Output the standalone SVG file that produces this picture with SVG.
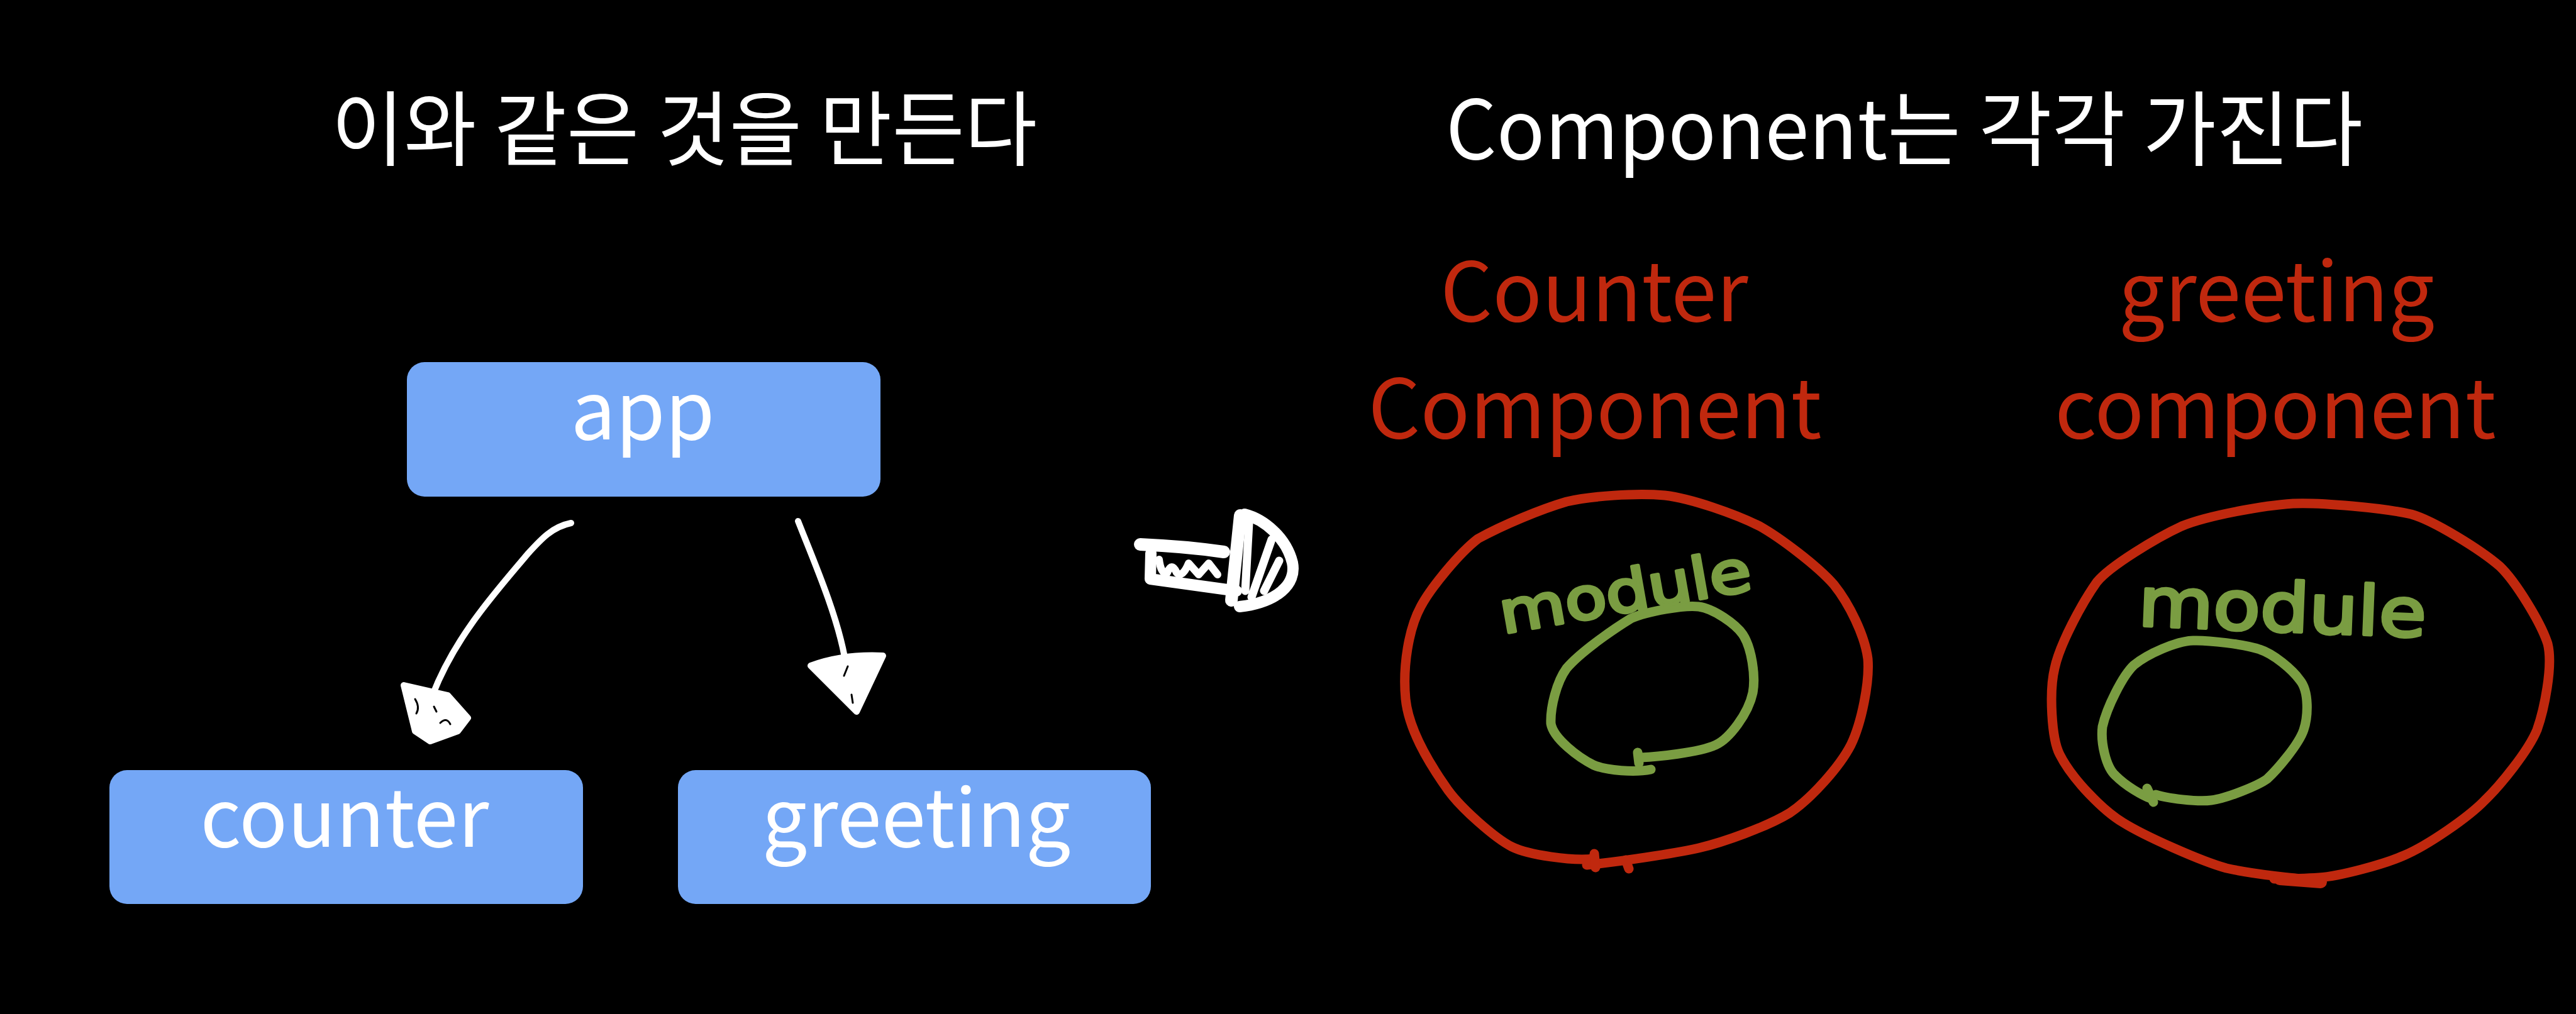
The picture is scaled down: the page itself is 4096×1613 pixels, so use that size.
<svg xmlns="http://www.w3.org/2000/svg" width="4096" height="1613" viewBox="0 0 4096 1613">
<style>
.title{font-family:"Noto Sans CJK KR","Noto Sans",sans-serif;font-size:130px;fill:#ffffff;text-anchor:middle}
.red{font-family:"Noto Sans CJK KR","Noto Sans",sans-serif;font-size:130px;fill:#c0280e;text-anchor:middle}
.box{fill:#74a7f6}
.boxt{font-family:"Noto Sans CJK KR","Noto Sans",sans-serif;font-size:127px;fill:#ffffff;text-anchor:middle}
.wl{fill:none;stroke:#ffffff;stroke-width:10;stroke-linecap:round;stroke-linejoin:round}
.wf{fill:#ffffff;stroke:#ffffff;stroke-width:10;stroke-linecap:round;stroke-linejoin:round}
.bk{fill:none;stroke:#000000;stroke-width:3;stroke-linecap:round}
.rl{fill:none;stroke:#c0280e;stroke-width:15;stroke-linecap:round;stroke-linejoin:round}
.gl{fill:none;stroke:#7a9d42;stroke-width:15;stroke-linecap:round;stroke-linejoin:round}
.mod{font-family:"DejaVu Sans",sans-serif;fill:#7a9d42;stroke:#7a9d42;stroke-width:5;stroke-linejoin:round}
</style>
<rect width="4096" height="1613" fill="#000000"/>
<g id="title-left"><text class="title" x="1088" y="253" textLength="1122" lengthAdjust="spacingAndGlyphs">이와 같은 것을 만든다</text></g>
<g id="title-right"><text class="title" x="3028" y="253" textLength="1458" lengthAdjust="spacingAndGlyphs">Component는 각각 가진다</text></g>
<g id="node-app"><rect class="box" x="647" y="576" width="753" height="214" rx="28"/><text class="boxt" x="1022" y="699">app</text></g>
<g id="node-counter"><rect class="box" x="174" y="1225" width="753" height="213" rx="28"/><text class="boxt" x="548" y="1347">counter</text></g>
<g id="node-greeting"><rect class="box" x="1078" y="1225" width="752" height="213" rx="28"/><text class="boxt" x="1457" y="1347">greeting</text></g>
<g id="connectors">
<path class="wl" d="M908,832 C878,838 860,858 840,880 C790,940 725,1010 688,1105"/>
<path class="wf" d="M642,1090 L712,1106 L744,1142 L728,1163 L684,1179 L660,1163 Z"/>
<path class="bk" d="M660,1112 Q668,1125 662,1135 M700,1150 Q710,1140 716,1152 M690,1124 L694,1132"/>
<path class="wl" d="M1269,829 C1293,890 1330,975 1343,1045"/>
<path class="wf" d="M1289,1059 Q1340,1040 1404,1043 L1362,1132 Z"/>
<path class="bk" d="M1348,1060 L1342,1075 M1354,1105 L1356,1118"/>
</g>
<g id="big-arrow">
<path class="wl" style="stroke-width:20" d="M1813,866 C1860,868 1905,872 1946,878"/>
<path class="wl" style="stroke-width:18" d="M1830,880 L1829,921 C1880,928 1925,934 1966,940"/>
<path class="wl" style="stroke-width:12" d="M1843,890 Q1846,914 1856,911 Q1863,893 1871,911 Q1880,920 1890,896 L1906,914 L1922,896 L1936,914"/>
<path class="wl" style="stroke-width:20" d="M1972,820 L1958,955"/>
<path class="wl" style="stroke-width:18" d="M1979,818 C2010,826 2045,855 2055,895 C2062,930 2030,958 1971,965"/>
<path class="wl" style="stroke-width:13" d="M1986,832 L1980,940 M2022,858 L1990,950 M2034,892 L2010,940"/>
</g>
<g id="counter-component">
<text class="red" x="2535" y="511">Counter</text>
<text class="red" x="2536" y="697">Component</text>
<path class="rl" d="M2534,1366 C2500,1370 2430,1360 2404,1347 C2380,1335 2320,1285 2297,1249 C2270,1210 2240,1160 2235,1112 C2230,1060 2240,1000 2259,965 C2275,935 2320,880 2350,857 C2390,835 2450,810 2491,798 C2530,789 2600,784 2647,788 C2690,793 2760,818 2798,837 C2830,855 2890,900 2916,930 C2940,960 2965,1010 2970,1048 C2973,1085 2960,1150 2943,1185 C2925,1220 2880,1270 2846,1293 C2810,1315 2740,1340 2701,1349 C2660,1358 2580,1370 2523,1376"/>
<path class="rl" d="M2535,1358 L2537,1380 M2585,1368 L2590,1382"/>
<path class="gl" d="M2609,1205 C2630,1204 2700,1198 2728,1185 C2750,1175 2780,1135 2787,1102 C2792,1075 2785,1030 2771,1009 C2760,993 2725,968 2701,965 C2680,962 2620,972 2593,984 C2570,998 2515,1035 2491,1063 C2475,1085 2465,1125 2466,1151 C2470,1175 2510,1205 2534,1217 C2555,1226 2600,1229 2625,1224"/>
<path class="gl" d="M2604,1197 L2606,1214"/>
<text class="mod" x="2390" y="1008" font-size="92" textLength="405" lengthAdjust="spacingAndGlyphs" transform="rotate(-10 2390 1008)">module</text>
</g>
<g id="greeting-component">
<text class="red" x="3620" y="511">greeting</text>
<text class="red" x="3618" y="697">component</text>
<path class="rl" d="M3687,1400 C3650,1398 3580,1390 3540,1381 C3500,1370 3410,1330 3375,1308 C3345,1290 3295,1240 3275,1200 C3262,1175 3258,1100 3267,1063 C3275,1025 3310,960 3334,926 C3355,900 3430,855 3469,837 C3510,820 3600,804 3646,801 C3690,799 3790,808 3834,818 C3870,828 3945,875 3975,901 C4000,925 4040,990 4051,1024 C4060,1060 4045,1130 4034,1161 C4020,1195 3975,1250 3951,1273 C3925,1300 3860,1345 3822,1361 C3790,1375 3720,1394 3687,1396 C3660,1398 3630,1398 3616,1398"/>
<path class="rl" style="stroke-width:20" d="M3625,1398 L3690,1403"/>
<path class="gl" d="M3428,1264 C3445,1270 3495,1276 3516,1273 C3540,1270 3590,1250 3605,1239 C3620,1225 3655,1185 3663,1161 C3670,1140 3672,1100 3657,1082 C3645,1065 3615,1040 3593,1033 C3570,1025 3510,1018 3487,1019 C3460,1020 3415,1040 3393,1058 C3375,1075 3350,1125 3343,1156 C3340,1180 3348,1220 3364,1234 C3380,1250 3405,1265 3422,1271"/>
<path class="gl" d="M3414,1254 L3424,1276"/>
<text class="mod" x="3399" y="995" font-size="108" textLength="458" lengthAdjust="spacingAndGlyphs" transform="rotate(2.3 3399 995)">module</text>
</g>
</svg>
